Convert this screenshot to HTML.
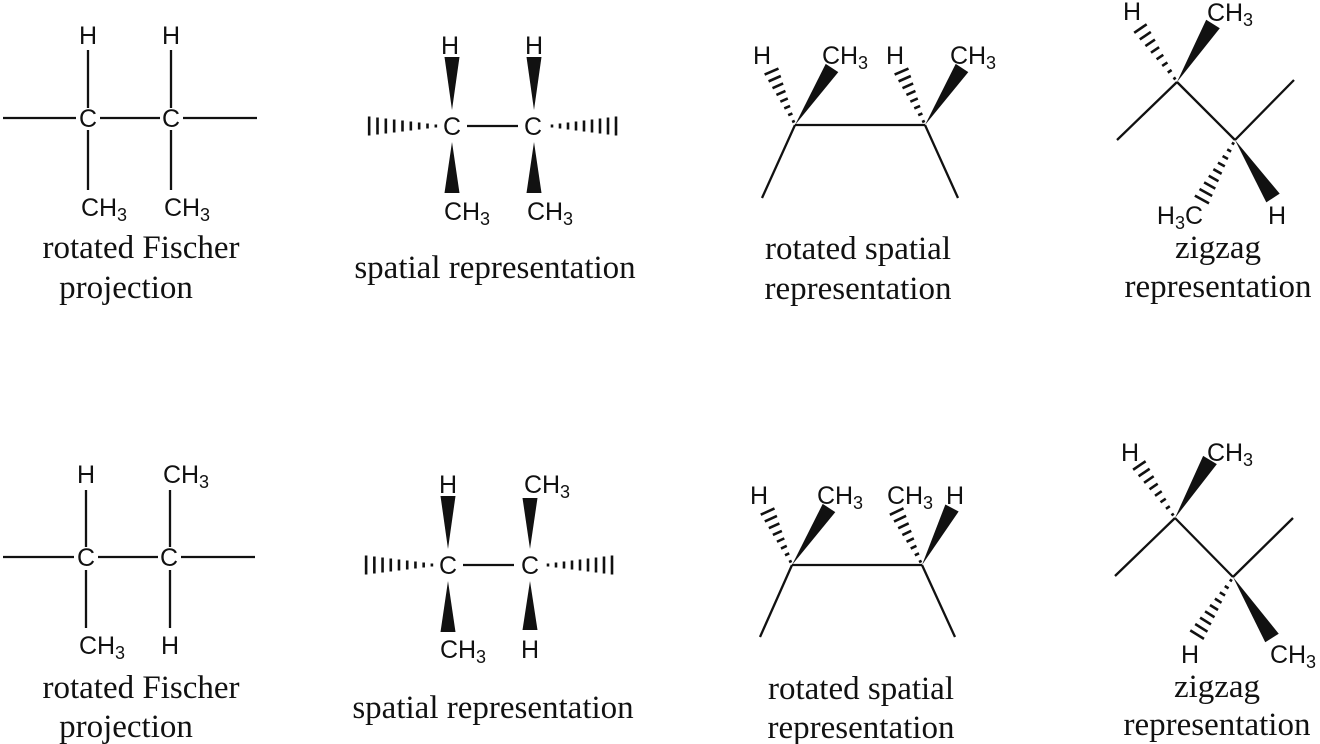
<!DOCTYPE html>
<html><head><meta charset="utf-8"><style>
html,body{margin:0;padding:0;background:#fff;}
svg{display:block}
.a{font-family:"Liberation Sans",sans-serif;font-size:25px;fill:#111;text-anchor:middle}
.s{font-size:18px}
.c{font-family:"Liberation Serif",serif;font-size:33px;fill:#111;text-anchor:middle}
</style></head><body>
<svg id="g" width="1320" height="744" viewBox="0 0 1320 744" xmlns="http://www.w3.org/2000/svg">
<g stroke="#111" stroke-width="2.3" fill="none" id="ln"></g>
<g fill="#111" id="sh"></g>
<!-- Top Fischer -->
<text class="a" x="88" y="44">H</text><text class="a" x="171" y="44">H</text>
<text class="a" x="88" y="127">C</text><text class="a" x="171" y="127">C</text>
<text class="a" x="104" y="216">CH<tspan class="s" dy="5">3</tspan></text>
<text class="a" x="187" y="216">CH<tspan class="s" dy="5">3</tspan></text>
<text class="c" x="141" y="258">rotated Fischer</text><text class="c" x="126" y="298">projection</text>
<!-- Top spatial -->
<text class="a" x="450" y="54">H</text><text class="a" x="534" y="54">H</text>
<text class="a" x="452" y="135">C</text><text class="a" x="533" y="135">C</text>
<text class="a" x="467" y="220">CH<tspan class="s" dy="5">3</tspan></text>
<text class="a" x="550" y="220">CH<tspan class="s" dy="5">3</tspan></text>
<text class="c" x="495" y="278">spatial representation</text>
<!-- Top rotated spatial -->
<text class="a" x="762" y="64">H</text><text class="a" x="845" y="64">CH<tspan class="s" dy="5">3</tspan></text>
<text class="a" x="895" y="64">H</text><text class="a" x="973" y="64">CH<tspan class="s" dy="5">3</tspan></text>
<text class="c" x="858" y="259">rotated spatial</text><text class="c" x="858" y="299">representation</text>
<!-- Top zigzag -->
<text class="a" x="1132" y="20">H</text><text class="a" x="1230" y="21">CH<tspan class="s" dy="5">3</tspan></text>
<text class="a" x="1180" y="224">H<tspan class="s" dy="5">3</tspan><tspan dy="-5">C</tspan></text>
<text class="a" x="1277" y="224">H</text>
<text class="c" x="1218" y="258">zigzag</text><text class="c" x="1218" y="297">representation</text>
<!-- Bottom Fischer -->
<text class="a" x="86" y="483">H</text><text class="a" x="186" y="483">CH<tspan class="s" dy="5">3</tspan></text>
<text class="a" x="86" y="566">C</text><text class="a" x="169" y="566">C</text>
<text class="a" x="102" y="654">CH<tspan class="s" dy="5">3</tspan></text>
<text class="a" x="170" y="654">H</text>
<text class="c" x="141" y="698">rotated Fischer</text><text class="c" x="126" y="737">projection</text>
<!-- Bottom spatial -->
<text class="a" x="448" y="493">H</text><text class="a" x="547" y="493">CH<tspan class="s" dy="5">3</tspan></text>
<text class="a" x="448" y="574">C</text><text class="a" x="530" y="574">C</text>
<text class="a" x="463" y="658">CH<tspan class="s" dy="5">3</tspan></text>
<text class="a" x="530" y="658">H</text>
<text class="c" x="493" y="718">spatial representation</text>
<!-- Bottom rotated spatial -->
<text class="a" x="759" y="504">H</text><text class="a" x="840" y="504">CH<tspan class="s" dy="5">3</tspan></text>
<text class="a" x="910" y="504">CH<tspan class="s" dy="5">3</tspan></text><text class="a" x="955" y="504">H</text>
<text class="c" x="861" y="699">rotated spatial</text><text class="c" x="861" y="738">representation</text>
<!-- Bottom zigzag -->
<text class="a" x="1130" y="461">H</text><text class="a" x="1230" y="461">CH<tspan class="s" dy="5">3</tspan></text>
<text class="a" x="1190" y="663">H</text><text class="a" x="1293" y="663">CH<tspan class="s" dy="5">3</tspan></text>
<text class="c" x="1217" y="697">zigzag</text><text class="c" x="1217" y="735">representation</text>
</svg>
<script>
var NS="http://www.w3.org/2000/svg",ln=document.getElementById("ln"),sh=document.getElementById("sh");
function L(x1,y1,x2,y2){var e=document.createElementNS(NS,"line");e.setAttribute("x1",x1);e.setAttribute("y1",y1);e.setAttribute("x2",x2);e.setAttribute("y2",y2);ln.appendChild(e);}
function W(x1,y1,x2,y2,w){var dx=x2-x1,dy=y2-y1,l=Math.hypot(dx,dy),nx=-dy/l*w/2,ny=dx/l*w/2;var p=document.createElementNS(NS,"polygon");p.setAttribute("points",x1+","+y1+" "+(x2+nx)+","+(y2+ny)+" "+(x2-nx)+","+(y2-ny));sh.appendChild(p);}
function H(x1,y1,x2,y2,w,n){var dx=x2-x1,dy=y2-y1,l=Math.hypot(dx,dy),ux=-dy/l,uy=dx/l;for(var i=0;i<n;i++){var t=(i+0.5)/n,cx=x1+dx*t,cy=y1+dy*t,h=2+(w-2)*t;var e=document.createElementNS(NS,"line");e.setAttribute("x1",cx+ux*h/2);e.setAttribute("y1",cy+uy*h/2);e.setAttribute("x2",cx-ux*h/2);e.setAttribute("y2",cy-uy*h/2);e.setAttribute("stroke-width","2.6");ln.appendChild(e);}}
// Top Fischer
L(3,118,76,118);L(100,118,160,118);L(183,118,257,118);
L(88,50,88,108);L(171,50,171,108);L(88,130,88,190);L(171,130,171,190);
// Top spatial
L(467,126,518,126);W(452,110,452,57,15);W(534,110,534,57,15);W(452,142,452,193,15);W(534,142,534,193,15);
H(440,126,365,126,20,9);H(548,126,620,126,20,9);
// Top rotated spatial
L(795,125,925,125);L(795,125,762,198);L(925,125,958,198);
W(795,125,832,68,15);W(925,125,962,68,15);H(795,125,770,68,16,8);H(925,125,900,68,16,8);
// Top zigzag
L(1177,82,1235,140);L(1177,82,1117,140);L(1235,140,1294,80);
W(1177,82,1213,24,16);H(1177,82,1138,25,16,8);W(1235,140,1273,198,16);H(1235,140,1200,203,17,9);
// Bottom Fischer
L(3,557,74,557);L(98,557,158,557);L(181,557,255,557);
L(86,490,86,547);L(170,490,170,547);L(86,570,86,628);L(170,570,170,628);
// Bottom spatial
L(463,565,514,565);W(448,549,448,496,15);W(530,549,530,498,15);W(448,581,448,632,15);W(530,581,530,630,15);
H(436,565,362,565,20,9);H(544,565,616,565,20,9);
// Bottom rotated spatial
L(792,565,922,565);L(792,565,760,637);L(922,565,955,637);
W(792,565,829,508,15);W(922,565,952,508,15);H(792,565,766,508,16,8);H(922,565,895,508,16,8);
// Bottom zigzag
L(1175,518,1233,577);L(1175,518,1115,576);L(1233,577,1293,518);
W(1175,518,1210,460,16);H(1175,518,1137,462,16,8);W(1233,577,1272,638,16);H(1233,577,1195,638,17,9);
</script>
</body></html>
